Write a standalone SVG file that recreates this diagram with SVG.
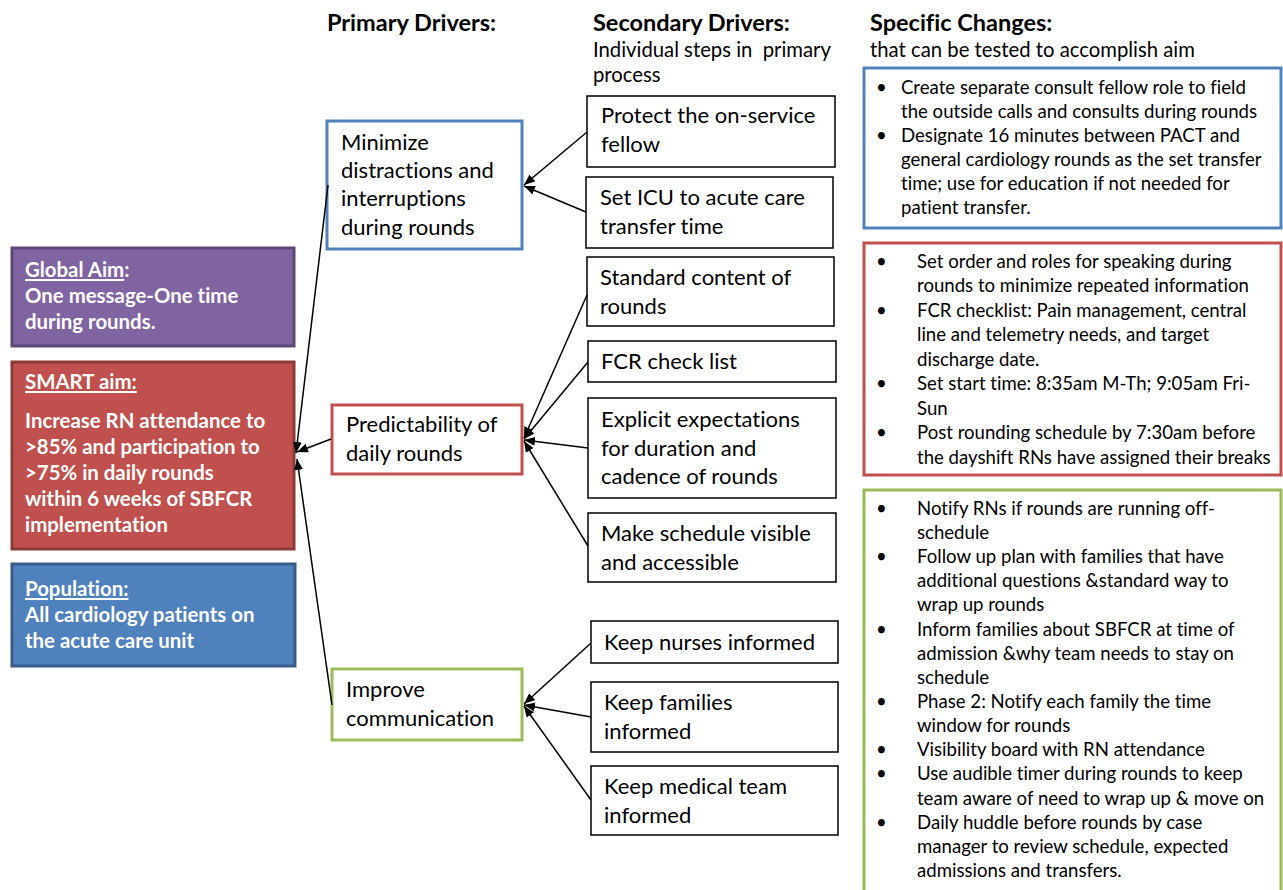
<svg xmlns="http://www.w3.org/2000/svg" width="1283" height="890" viewBox="0 0 1283 890">
<defs>
<marker id="arr" markerUnits="userSpaceOnUse" markerWidth="12" markerHeight="10" refX="11" refY="4.5" orient="auto">
<path d="M0,0 L11,4.5 L0,9 Z" fill="#000"/>
</marker>
</defs>
<style>
text{font-family:Lato,"Open Sans","Liberation Sans",sans-serif;fill:#000;font-variant-ligatures:none;font-feature-settings:"liga" 0,"dlig" 0}
.h{font-weight:bold;font-size:23.5px}
.sub{font-size:20.3px}
.aim{fill:#fff;font-weight:bold;font-size:20.4px}
.pd{font-size:22px}
.sd{font-size:22px}
.sc{font-size:18.6px}
.sbox{fill:#fff;stroke:#000;stroke-width:1.5}
.pbox{fill:#fff;stroke-width:3}
.cbox{fill:#fff;stroke-width:3}
#connectors line{stroke:#000;stroke-width:1.5;marker-end:url(#arr)}
</style>
<rect width="1283" height="890" fill="#fff"/>

<g id="headers">
<text class="h" x="327" y="31">Primary Drivers:</text>
<text class="h" x="593" y="31">Secondary Drivers:</text>
<text class="sub" x="593" y="57">Individual steps in&#160; primary</text>
<text class="sub" x="593" y="82">process</text>
<text class="h" x="870" y="31">Specific Changes:</text>
<text class="sub" x="870" y="57">that can be tested to accomplish aim</text>
</g>

<g id="global-aim">
<rect x="12" y="248" width="282" height="98" fill="#8064A2" stroke="#5C4776" stroke-width="3"/>
<text class="aim" x="25" y="277"><tspan text-decoration="underline">Global Aim</tspan>:</text>
<text class="aim" x="25" y="303">One message-One time</text>
<text class="aim" x="25" y="329">during rounds.</text>
</g>

<g id="smart-aim">
<rect x="12" y="362" width="282" height="187" fill="#C0504D" stroke="#8C3A38" stroke-width="3"/>
<text class="aim" x="25" y="389" text-decoration="underline">SMART aim:</text>
<text class="aim" x="25" y="428">Increase RN attendance to</text>
<text class="aim" x="25" y="454">&gt;85% and participation to</text>
<text class="aim" x="25" y="480">&gt;75% in daily rounds</text>
<text class="aim" x="25" y="506">within 6 weeks of SBFCR</text>
<text class="aim" x="25" y="532">implementation</text>
</g>

<g id="population">
<rect x="12" y="564" width="283" height="102" fill="#4F81BD" stroke="#385D8A" stroke-width="3"/>
<text class="aim" x="25" y="596" text-decoration="underline">Population:</text>
<text class="aim" x="25" y="622">All cardiology patients on</text>
<text class="aim" x="25" y="648">the acute care unit</text>
</g>

<g id="pd-minimize">
<rect class="pbox" x="327" y="121" width="195" height="128" stroke="#4F81BD"/>
<text class="pd" x="341" y="150">Minimize</text>
<text class="pd" x="341" y="178">distractions and</text>
<text class="pd" x="341" y="206">interruptions</text>
<text class="pd" x="341" y="235">during rounds</text>
</g>

<g id="pd-predictability">
<rect class="pbox" x="332" y="405" width="190" height="69" stroke="#C0504D"/>
<text class="pd" x="346" y="432">Predictability of</text>
<text class="pd" x="346" y="461">daily rounds</text>
</g>

<g id="pd-communication">
<rect class="pbox" x="332" y="669" width="190" height="71" stroke="#9BBB59"/>
<text class="pd" x="346" y="697">Improve</text>
<text class="pd" x="346" y="726">communication</text>
</g>

<g id="sd-protect">
<rect class="sbox" x="587" y="96" width="248" height="71"/>
<text class="sd" x="601" y="123">Protect the on-service</text>
<text class="sd" x="601" y="152">fellow</text>
</g>
<g id="sd-icu">
<rect class="sbox" x="586" y="177" width="247" height="71"/>
<text class="sd" x="600" y="205">Set ICU to acute care</text>
<text class="sd" x="600" y="234">transfer time</text>
</g>
<g id="sd-standard">
<rect class="sbox" x="587" y="257" width="247" height="69"/>
<text class="sd" x="600" y="285">Standard content of</text>
<text class="sd" x="600" y="314">rounds</text>
</g>
<g id="sd-fcr">
<rect class="sbox" x="588" y="341" width="248" height="41"/>
<text class="sd" x="601" y="369">FCR check list</text>
</g>
<g id="sd-explicit">
<rect class="sbox" x="588" y="398" width="248" height="100"/>
<text class="sd" x="601" y="427">Explicit expectations</text>
<text class="sd" x="601" y="456">for duration and</text>
<text class="sd" x="601" y="484">cadence of rounds</text>
</g>
<g id="sd-schedule">
<rect class="sbox" x="588" y="513" width="248" height="69"/>
<text class="sd" x="601" y="541">Make schedule visible</text>
<text class="sd" x="601" y="570">and accessible</text>
</g>
<g id="sd-nurses">
<rect class="sbox" x="591" y="621" width="247" height="42"/>
<text class="sd" x="604" y="650">Keep nurses informed</text>
</g>
<g id="sd-families">
<rect class="sbox" x="591" y="682" width="247" height="70"/>
<text class="sd" x="604" y="710">Keep families</text>
<text class="sd" x="604" y="739">informed</text>
</g>
<g id="sd-medical">
<rect class="sbox" x="591" y="766" width="247" height="69"/>
<text class="sd" x="604" y="794">Keep medical team</text>
<text class="sd" x="604" y="823">informed</text>
</g>

<g id="sc-minimize">
<rect class="cbox" x="864" y="68" width="417" height="160" stroke="#4F81BD"/>
<text class="sc" x="876" y="94">•</text>
<text class="sc" x="901" y="94">Create separate consult fellow role to field</text>
<text class="sc" x="901" y="118">the outside calls and consults during rounds</text>
<text class="sc" x="876" y="142">•</text>
<text class="sc" x="901" y="142">Designate 16 minutes between PACT and</text>
<text class="sc" x="901" y="166">general cardiology rounds as the set transfer</text>
<text class="sc" x="901" y="190">time; use for education if not needed for</text>
<text class="sc" x="901" y="214">patient transfer.</text>
</g>

<g id="sc-predictability">
<rect class="cbox" x="864" y="243" width="417" height="232" stroke="#C0504D"/>
<text class="sc" x="876" y="268">•</text>
<text class="sc" x="917" y="268">Set order and roles for speaking during</text>
<text class="sc" x="917" y="292">rounds to minimize repeated information</text>
<text class="sc" x="876" y="317">•</text>
<text class="sc" x="917" y="317">FCR checklist: Pain management, central</text>
<text class="sc" x="917" y="341">line and telemetry needs, and target</text>
<text class="sc" x="917" y="366">discharge date.</text>
<text class="sc" x="876" y="390">•</text>
<text class="sc" x="917" y="390">Set start time: 8:35am M-Th; 9:05am Fri-</text>
<text class="sc" x="917" y="415">Sun</text>
<text class="sc" x="876" y="439">•</text>
<text class="sc" x="917" y="439">Post rounding schedule by 7:30am before</text>
<text class="sc" x="917" y="464">the dayshift RNs have assigned their breaks</text>
</g>

<g id="sc-communication">
<rect class="cbox" x="864" y="490" width="417" height="420" stroke="#9BBB59"/>
<text class="sc" x="876" y="515">•</text>
<text class="sc" x="917" y="515">Notify RNs if rounds are running off-</text>
<text class="sc" x="917" y="539">schedule</text>
<text class="sc" x="876" y="563">•</text>
<text class="sc" x="917" y="563">Follow up plan with families that have</text>
<text class="sc" x="917" y="587">additional questions &amp;standard way to</text>
<text class="sc" x="917" y="611">wrap up rounds</text>
<text class="sc" x="876" y="636">•</text>
<text class="sc" x="917" y="636">Inform families about SBFCR at time of</text>
<text class="sc" x="917" y="660">admission &amp;why team needs to stay on</text>
<text class="sc" x="917" y="684">schedule</text>
<text class="sc" x="876" y="708">•</text>
<text class="sc" x="917" y="708">Phase 2: Notify each family the time</text>
<text class="sc" x="917" y="732">window for rounds</text>
<text class="sc" x="876" y="756">•</text>
<text class="sc" x="917" y="756">Visibility board with RN attendance</text>
<text class="sc" x="876" y="780">•</text>
<text class="sc" x="917" y="780">Use audible timer during rounds to keep</text>
<text class="sc" x="917" y="805">team aware of need to wrap up &amp; move on</text>
<text class="sc" x="876" y="829">•</text>
<text class="sc" x="917" y="829">Daily huddle before rounds by case</text>
<text class="sc" x="917" y="853">manager to review schedule, expected</text>
<text class="sc" x="917" y="877">admissions and transfers.</text>
</g>

<g id="connectors">
<line x1="587" y1="132" x2="524" y2="185"/>
<line x1="586" y1="212" x2="524" y2="186"/>
<line x1="587" y1="295" x2="524" y2="438"/>
<line x1="588" y1="362" x2="524" y2="439"/>
<line x1="588" y1="448" x2="524" y2="440"/>
<line x1="588" y1="546" x2="524" y2="441"/>
<line x1="591" y1="643" x2="524" y2="704"/>
<line x1="591" y1="717" x2="524" y2="705"/>
<line x1="591" y1="800" x2="524" y2="706"/>
<line x1="328" y1="185" x2="296" y2="453"/>
<line x1="331" y1="439" x2="297" y2="452"/>
<line x1="332" y1="705" x2="297" y2="459"/>
</g>
</svg>
